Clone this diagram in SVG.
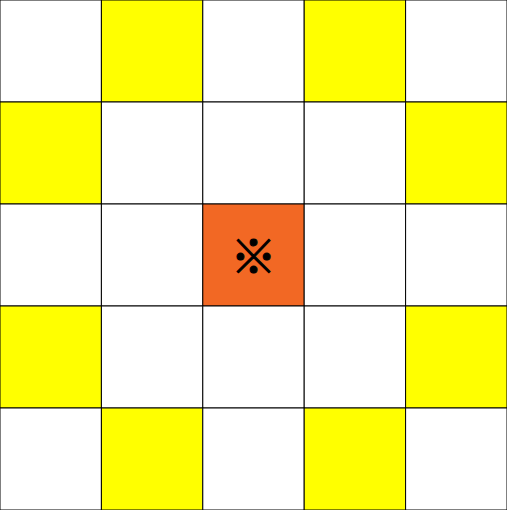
<svg xmlns="http://www.w3.org/2000/svg" width="507" height="510" viewBox="0 0 507 510">
<style>
.c{fill:#ffffff;stroke:#000;stroke-width:1}
.y{fill:#ffff00;stroke:#000;stroke-width:1}
.o{fill:#f26824;stroke:#000;stroke-width:1}
.s{font-family:"Noto Sans CJK JP",sans-serif;font-weight:bold;font-size:46px;fill:#000;stroke:#000;stroke-width:1;text-anchor:middle;dominant-baseline:central}
</style>
<rect x="0" y="0" width="507" height="510" fill="#fff"/>
<g id="r0">
<rect id="c00" class="c" x="0" y="0" width="101.4" height="102"/>
<rect id="c01" class="y" x="101.4" y="0" width="101.4" height="102"/>
<rect id="c02" class="c" x="202.8" y="0" width="101.4" height="102"/>
<rect id="c03" class="y" x="304.2" y="0" width="101.4" height="102"/>
<rect id="c04" class="c" x="405.6" y="0" width="101.4" height="102"/>
</g>
<g id="r1">
<rect id="c10" class="y" x="0" y="102" width="101.4" height="102"/>
<rect id="c11" class="c" x="101.4" y="102" width="101.4" height="102"/>
<rect id="c12" class="c" x="202.8" y="102" width="101.4" height="102"/>
<rect id="c13" class="c" x="304.2" y="102" width="101.4" height="102"/>
<rect id="c14" class="y" x="405.6" y="102" width="101.4" height="102"/>
</g>
<g id="r2">
<rect id="c20" class="c" x="0" y="204" width="101.4" height="102"/>
<rect id="c21" class="c" x="101.4" y="204" width="101.4" height="102"/>
<g id="c22">
<rect class="o" x="202.8" y="204" width="101.4" height="102"/>
<text class="s" x="253.5" y="252.5">※</text>
</g>
<rect id="c23" class="c" x="304.2" y="204" width="101.4" height="102"/>
<rect id="c24" class="c" x="405.6" y="204" width="101.4" height="102"/>
</g>
<g id="r3">
<rect id="c30" class="y" x="0" y="306" width="101.4" height="102"/>
<rect id="c31" class="c" x="101.4" y="306" width="101.4" height="102"/>
<rect id="c32" class="c" x="202.8" y="306" width="101.4" height="102"/>
<rect id="c33" class="c" x="304.2" y="306" width="101.4" height="102"/>
<rect id="c34" class="y" x="405.6" y="306" width="101.4" height="102"/>
</g>
<g id="r4">
<rect id="c40" class="c" x="0" y="408" width="101.4" height="102"/>
<rect id="c41" class="y" x="101.4" y="408" width="101.4" height="102"/>
<rect id="c42" class="c" x="202.8" y="408" width="101.4" height="102"/>
<rect id="c43" class="y" x="304.2" y="408" width="101.4" height="102"/>
<rect id="c44" class="c" x="405.6" y="408" width="101.4" height="102"/>
</g>
</svg>
